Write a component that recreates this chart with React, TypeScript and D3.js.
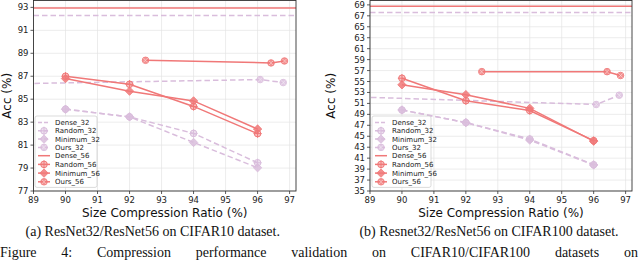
import * as d3 from 'd3';
import React, { useEffect, useRef } from 'react';

const W = 640;
const H = 260;
const RED = '#f07878';
const LAV = '#d9bddc';

const xTicks = [89, 90, 91, 92, 93, 94, 95, 96, 97];
const c10Ticks = [77, 79, 81, 83, 85, 87, 89, 91, 93];
const c100Ticks = [35, 37, 39, 41, 43, 45, 47, 49, 51, 53, 55, 57, 59, 61, 63, 65, 67, 69];

// pruning ratios used by Random / Minimum
const ratioX = [90, 92, 94, 96];
const ours32X = [88.5, 96.08, 96.8];
const ours56X = [92.5, 96.42, 96.84];

// CIFAR10
const c10Dense32 = 92.3;
const c10Dense56 = 92.95;
const c10Random32 = [84.13, 83.46, 82.02, 79.46];
const c10Minimum32 = [84.13, 83.46, 81.23, 79.03];
const c10Ours32 = [86.35, 86.71, 86.45];
const c10Random56 = [87.0, 86.3, 84.37, 82.0];
const c10Minimum56 = [86.8, 85.7, 84.85, 82.4];
const c10Ours56 = [88.39, 88.16, 88.33];

// CIFAR100
const c100Dense32 = 67.6;
const c100Dense56 = 68.75;
const c100Random32 = [49.8, 47.5, 44.5, 39.8];
const c100Minimum32 = [49.8, 47.5, 44.3, 39.75];
const c100Ours32 = [52.2, 50.8, 52.5];
const c100Random56 = [55.6, 51.5, 49.7, 44.2];
const c100Minimum56 = [54.4, 52.6, 50.1, 44.1];
const c100Ours56 = [56.8, 56.8, 56.1];

const legendNames = ['Dense_32', 'Random_32', 'Minimum_32', 'Ours_32', 'Dense_56', 'Random_56', 'Minimum_56', 'Ours_56'];
const figureWords = ['Figure', '4:', 'Compression', 'performance', 'validation', 'on', 'CIFAR10/CIFAR100', 'datasets', 'on'];

type MarkerType = 'none' | 'random' | 'minimum' | 'ours';

const Marker = ({ type, x, y, color }: { type: MarkerType; x: number; y: number; color: string }) => {
  const r = 3.3;
  if (type === 'none') return null;
  if (type === 'random') {
    return (
      <g transform={`translate(${x},${y})`}>
        <circle r={r} fill={color} fillOpacity={0.45} stroke={color} strokeWidth={1} />
        <path d={`M${-r - 0.8},0H${r + 0.8}M0,${-r - 0.8}V${r + 0.8}`} stroke={color} strokeWidth={1} />
      </g>
    );
  }
  if (type === 'minimum') {
    const s = 4.2;
    return (
      <g transform={`translate(${x},${y})`}>
        <path d={`M0,${-s}L${s},0L0,${s}L${-s},0Z`} fill={color} fillOpacity={0.85} stroke={color} strokeWidth={0.8} />
      </g>
    );
  }
  return (
    <g transform={`translate(${x},${y})`}>
      <circle r={r} fill={color} fillOpacity={0.8} stroke={color} strokeWidth={0.8} />
      <path d={`M${-r * 0.7},${-r * 0.7}L${r * 0.7},${r * 0.7}M${-r * 0.7},${r * 0.7}L${r * 0.7},${-r * 0.7}`} stroke="#fff" strokeOpacity={0.6} strokeWidth={0.7} />
    </g>
  );
};

type Series = { xs: number[]; ys: number[]; color: string; dashed: boolean; marker: MarkerType };

const Panel = (props: {
  id: string;
  left: number;
  right: number;
  top: number;
  bottom: number;
  yDomain: [number, number];
  yTicks: number[];
  dense32: number;
  dense56: number;
  series: Series[];
  legendX: number;
  legendY: number;
  legendW: number;
  labelX: number;
  caption: string;
}) => {
  const { id, left, right, top, bottom, yDomain, yTicks, series } = props;
  const x = d3.scaleLinear().domain([89, 97.2]).range([left, right]);
  const y = d3.scaleLinear().domain(yDomain).range([bottom, top]);
  const line = d3.line<[number, number]>().x(d => x(d[0])).y(d => y(d[1]));
  const cx = (left + right) / 2;

  const legendMarkers: { color: string; dashed: boolean; marker: MarkerType }[] = [
    { color: LAV, dashed: true, marker: 'none' },
    { color: LAV, dashed: true, marker: 'random' },
    { color: LAV, dashed: true, marker: 'minimum' },
    { color: LAV, dashed: true, marker: 'ours' },
    { color: RED, dashed: false, marker: 'none' },
    { color: RED, dashed: false, marker: 'random' },
    { color: RED, dashed: false, marker: 'minimum' },
    { color: RED, dashed: false, marker: 'ours' },
  ];
  const rowH = 8.3;

  return (
    <g>
      <defs>
        <clipPath id={id}>
          <rect x={left} y={top} width={right - left} height={bottom - top} />
        </clipPath>
      </defs>
      {/* grid */}
      {xTicks.map(t => (
        <line key={'gx' + t} x1={x(t)} x2={x(t)} y1={top} y2={bottom} stroke="#e4e4e4" strokeWidth={0.7} />
      ))}
      {yTicks.map(t => (
        <line key={'gy' + t} x1={left} x2={right} y1={y(t)} y2={y(t)} stroke="#e4e4e4" strokeWidth={0.7} />
      ))}
      <g clipPath={`url(#${id})`}>
        <line x1={left} x2={right} y1={y(props.dense32)} y2={y(props.dense32)} stroke={LAV} strokeWidth={1.5} strokeDasharray="5.5,3" />
        <line x1={left} x2={right} y1={y(props.dense56)} y2={y(props.dense56)} stroke={RED} strokeWidth={1.5} />
        {series.map((s, i) => {
          const pts = s.xs.map((v, j) => [v, s.ys[j]] as [number, number]);
          return (
            <g key={i}>
              <path d={line(pts) || ''} fill="none" stroke={s.color} strokeWidth={1.5} strokeDasharray={s.dashed ? '5.5,3' : undefined} />
              {pts.map((p, j) => (
                <Marker key={j} type={s.marker} x={x(p[0])} y={y(p[1])} color={s.color} />
              ))}
            </g>
          );
        })}
      </g>
      {/* frame */}
      <rect x={left} y={top} width={right - left} height={bottom - top} fill="none" stroke="#333" strokeWidth={0.9} />
      {/* ticks */}
      {xTicks.map(t => (
        <g key={'tx' + t}>
          <line x1={x(t)} x2={x(t)} y1={bottom} y2={bottom + 3} stroke="#333" strokeWidth={0.8} />
          <text x={x(t)} y={bottom + 11.5} textAnchor="middle" fontSize={8.5} fill="#222" fontFamily="DejaVu Sans">{t}</text>
        </g>
      ))}
      {yTicks.map(t => (
        <g key={'ty' + t}>
          <line x1={left - 3} x2={left} y1={y(t)} y2={y(t)} stroke="#333" strokeWidth={0.8} />
          <text x={left - 5} y={y(t) + 3} textAnchor="end" fontSize={8.5} fill="#222" fontFamily="DejaVu Sans">{t}</text>
        </g>
      ))}
      <text x={cx} y={bottom + 25.5} textAnchor="middle" fontSize={12} fill="#111" fontFamily="DejaVu Sans">Size Compression Ratio (%)</text>
      <text transform={`translate(${props.labelX},${(top + bottom) / 2}) rotate(-90)`} textAnchor="middle" fontSize={12} fill="#111" fontFamily="DejaVu Sans">Acc (%)</text>
      {/* legend */}
      <rect x={props.legendX} y={props.legendY} width={props.legendW} height={rowH * 8 + 5} rx={2} fill="#fff" fillOpacity={0.85} stroke="#ccc" strokeWidth={0.7} />
      {legendNames.map((n, i) => {
        const ly = props.legendY + 6.5 + i * rowH + (i > 4 ? (i - 4) * 0.4 : 0);
        const m = legendMarkers[i];
        const lx = props.legendX + 3;
        return (
          <g key={n}>
            <line x1={lx} x2={lx + 12} y1={ly} y2={ly} stroke={m.color} strokeWidth={1.5} strokeDasharray={m.dashed ? '4,2' : undefined} />
            <Marker type={m.marker} x={lx + 6} y={ly} color={m.color} />
            <text x={lx + 17} y={ly + 2.5} fontSize={7} fill="#222" fontFamily="DejaVu Sans">{n}</text>
          </g>
        );
      })}
      <text x={cx - 12} y={236} textAnchor="middle" fontSize={14} fill="#111" fontFamily="Liberation Serif">{props.caption}</text>
    </g>
  );
};

const App = () => {
  const figRef = useRef<SVGGElement>(null);

  useEffect(() => {
    const g = d3.select(figRef.current);
    const words = g.selectAll<SVGTextElement, string>('text');
    const widths = words.nodes().map(n => n.getComputedTextLength());
    const total = d3.sum(widths);
    const x0 = 0;
    const x1 = 638;
    const gap = (x1 - x0 - total) / (widths.length - 1);
    let pos = x0;
    words.each(function (_, i) {
      d3.select(this).attr('x', pos);
      pos += widths[i] + gap;
    });
  }, []);

  const c10Series: Series[] = [
    { xs: ours32X, ys: c10Ours32, color: LAV, dashed: true, marker: 'ours' },
    { xs: ratioX, ys: c10Random32, color: LAV, dashed: true, marker: 'random' },
    { xs: ratioX, ys: c10Minimum32, color: LAV, dashed: true, marker: 'minimum' },
    { xs: ratioX, ys: c10Random56, color: RED, dashed: false, marker: 'random' },
    { xs: ratioX, ys: c10Minimum56, color: RED, dashed: false, marker: 'minimum' },
    { xs: ours56X, ys: c10Ours56, color: RED, dashed: false, marker: 'ours' },
  ];
  const c100Series: Series[] = [
    { xs: ours32X, ys: c100Ours32, color: LAV, dashed: true, marker: 'ours' },
    { xs: ratioX, ys: c100Random32, color: LAV, dashed: true, marker: 'random' },
    { xs: ratioX, ys: c100Minimum32, color: LAV, dashed: true, marker: 'minimum' },
    { xs: ratioX, ys: c100Random56, color: RED, dashed: false, marker: 'random' },
    { xs: ratioX, ys: c100Minimum56, color: RED, dashed: false, marker: 'minimum' },
    { xs: ours56X, ys: c100Ours56, color: RED, dashed: false, marker: 'ours' },
  ];

  return (
    <svg width={W} height={H} style={{ position: 'absolute', left: 0, top: 0, background: '#fff' }}>
      <rect width={W} height={H} fill="#fff" />
      <Panel
        id="clipA"
        left={33.5}
        right={296}
        top={0.5}
        bottom={191}
        yDomain={[77, 93.6]}
        yTicks={c10Ticks}
        dense32={c10Dense32}
        dense56={c10Dense56}
        series={c10Series}
        legendX={35}
        legendY={116}
        legendW={62}
        labelX={11}
        caption="(a) ResNet32/ResNet56 on CIFAR10 dataset."
      />
      <Panel
        id="clipB"
        left={370}
        right={632}
        top={0.5}
        bottom={191}
        yDomain={[35, 69.8]}
        yTicks={c100Ticks}
        dense32={c100Dense32}
        dense56={c100Dense56}
        series={c100Series}
        legendX={372}
        legendY={116}
        legendW={59}
        labelX={335}
        caption="(b) Resnet32/ResNet56 on CIFAR100 dataset."
      />
      <g ref={figRef}>
        {figureWords.map((w, i) => (
          <text key={i} x={0} y={256.5} fontSize={14} fill="#111" fontFamily="Liberation Serif">{w}</text>
        ))}
      </g>
    </svg>
  );
};

export default App;
